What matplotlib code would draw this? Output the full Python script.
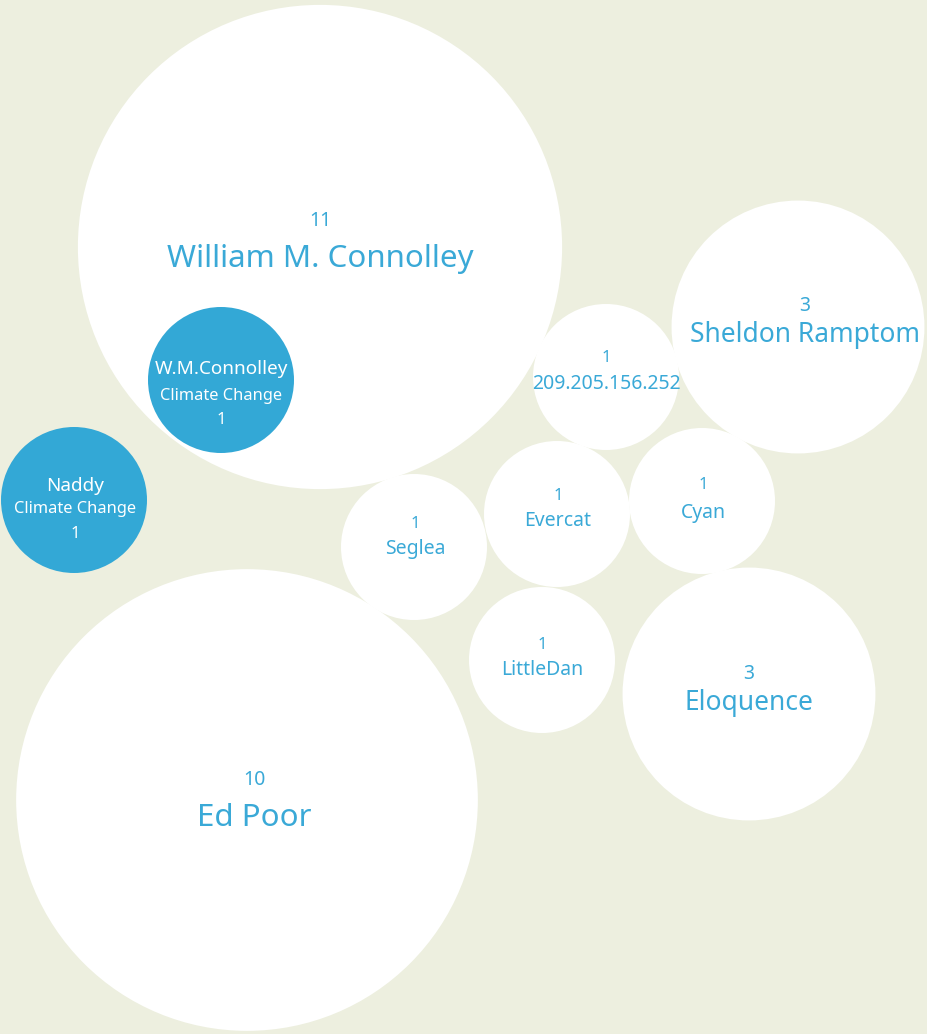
"""Bubble chart of editors by number of edits."""

import matplotlib
matplotlib.use("Agg")
import matplotlib.pyplot as plt
from matplotlib.patches import Circle
import numpy as np

# data
names = ["William M. Connolley", "Ed Poor", "Sheldon Ramptom", "Eloquence",
         "209.205.156.252", "Cyan", "Evercat", "Seglea", "LittleDan",
         "W.M.Connolley", "Naddy"]
counts = [11, 10, 3, 3, 1, 1, 1, 1, 1, 1, 1]
subtitles = ["", "", "", "", "", "", "", "", "", "Climate Change", "Climate Change"]
highlighted = [False] * 9 + [True, True]

# layout (pixel space, y down)
centers = [(320, 247), (247, 800), (798, 327), (749, 694), (606, 377),
           (702, 501), (557, 514), (414, 547), (542, 660), (221, 380), (74, 500)]
# label anchor: x shift, baseline of count, baseline of name (relative to center)
label_dx = [0, 7, 7, 0, 0, 1, 1, 1, 0, 0, 1]
count_dy = [-21, -15, -16, -15, -15, -12, -14, -19, -11, 44, 38]
name_dy = [20, 26, 15, 16, 12, 17, 12, 7, 15, -6, -9]
sub_dy = [0, 0, 0, 0, 0, 0, 0, 0, 0, 20, 13]
unit_radius = 73

BG = "#EDEFDF"
BLUE = "#33A8D6"
TEXT_BLUE = "#3AA9D7"

plt.rcParams["font.family"] = ["Noto Sans", "DejaVu Sans"]

fig = plt.figure(figsize=(9.28, 10.34), dpi=100, facecolor=BG)
ax = fig.add_axes([0, 0, 1, 1])
ax.set_facecolor(BG)
ax.set_xlim(0, 928)
ax.set_ylim(1034, 0)
ax.set_aspect("equal")
ax.axis("off")


def sizes_for(count):
    # name size, count size
    if count >= 10:
        return 22.5, 14
    if count >= 3:
        return 19, 14
    return 14, 12


for i, (name, count) in enumerate(zip(names, counts)):
    cx, cy = centers[i]
    hl = highlighted[i]
    r = unit_radius * np.sqrt(count)
    ax.add_patch(Circle((cx, cy), r, facecolor=BLUE if hl else "white",
                        edgecolor="none", zorder=3 if hl else 2))
    x = cx + label_dx[i]
    if hl:
        ax.text(x, cy + name_dy[i], name, color="white", fontsize=13.6,
                ha="center", va="baseline", zorder=4)
        ax.text(x, cy + sub_dy[i], subtitles[i], color="white", fontsize=11.8,
                ha="center", va="baseline", zorder=4)
        ax.text(x, cy + count_dy[i], str(count), color="white", fontsize=12,
                ha="center", va="baseline", zorder=4)
    else:
        name_size, count_size = sizes_for(count)
        ax.text(x, cy + count_dy[i], str(count), color=TEXT_BLUE, fontsize=count_size,
                ha="center", va="baseline", zorder=4)
        ax.text(x, cy + name_dy[i], name, color=TEXT_BLUE, fontsize=name_size,
                ha="center", va="baseline", zorder=4)

fig.savefig("out.png", dpi=100, facecolor=BG)
